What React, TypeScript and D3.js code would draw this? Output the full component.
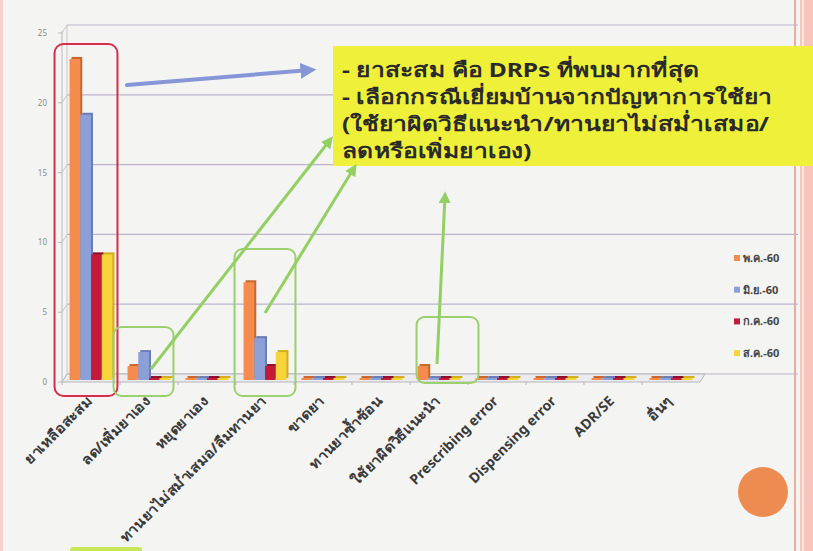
import * as d3 from "d3";

const categories = [
  "ยาเหลือสะสม",
  "ลด/เพิ่มยาเอง",
  "หยุดยาเอง",
  "ทานยาไม่สม่ำเสมอ/ลืมทานยา",
  "ขาดยา",
  "ทานยาซ้ำซ้อน",
  "ใช้ยาผิดวิธีแนะนำ",
  "Prescribing error",
  "Dispensing error",
  "ADR/SE",
  "อื่นๆ",
];
const seriesNames = ["พ.ค.-60", "มิ.ย.-60", "ก.ค.-60", "ส.ค.-60"];
const may60 = [23, 1, 0, 7, 0, 0, 1, 0, 0, 0, 0];
const jun60 = [19, 2, 0, 3, 0, 0, 0, 0, 0, 0, 0];
const jul60 = [9, 0, 0, 1, 0, 0, 0, 0, 0, 0, 0];
const aug60 = [9, 0, 0, 2, 0, 0, 0, 0, 0, 0, 0];
const yTicks = [0, 5, 10, 15, 20, 25];
const noteLines = [
  "- ยาสะสม คือ DRPs ที่พบมากที่สุด",
  "- เลือกกรณีเยี่ยมบ้านจากปัญหาการใช้ยา",
  "(ใช้ยาผิดวิธีแนะนำ/ทานยาไม่สม่ำเสมอ/",
  "ลดหรือเพิ่มยาเอง)",
];

const colors = ["#F58B4C", "#8C9FD6", "#C21A3A", "#F7D43A"];
const sides = ["#C9672F", "#6A7DB5", "#8E0F28", "#D1AE1E"];
const values = [may60, jun60, jul60, aug60];

const W = 813;
const H = 551;
const font = "'Noto Sans', 'DejaVu Sans', sans-serif";
const isThai = (s: string) => /[\u0E00-\u0E7F]/.test(s);

export default function App() {
  const x0 = d3.scaleBand<string>().domain(categories).range([62, 700]).paddingInner(0.26).paddingOuter(0.13);
  const x1 = d3.scaleBand<string>().domain(seriesNames).range([0, x0.bandwidth()]);
  const y = d3.scaleLinear().domain([0, 25]).range([380, 31]);
  const dx = 5;
  const dy = -6;

  // rounded callout around a category group
  const box = (cat: string, padL: number, padR: number) => ({
    x: (x0(cat) ?? 0) - padL,
    w: x0.bandwidth() + padL + padR,
  });
  const b1 = box(categories[0], 15, 5);
  const b2 = box(categories[1], 14, 3);
  const b4 = box(categories[3], 9, 9);
  const b7 = box(categories[6], 1, 18);

  return (
    <svg
      width={W}
      height={H}
      style={{ position: "absolute", left: 0, top: 0, background: "#F4F4F2" }}
      fontFamily={font}
    >
      <defs>
        <marker id="gArrow" viewBox="0 0 10 10" refX="6" refY="5" markerWidth="4" markerHeight="4" orient="auto">
          <path d="M0,0 L10,5 L0,10 z" fill="#93CF63" />
        </marker>
        <marker id="bArrow" viewBox="0 0 10 10" refX="6" refY="5" markerWidth="4" markerHeight="4" orient="auto">
          <path d="M0,0 L10,5 L0,10 z" fill="#8796D6" />
        </marker>
      </defs>

      {/* slide frame */}
      <rect x={0} y={0} width={3} height={H} fill="#F5D2CC" />
      <rect x={794} y={0} width={2} height={H} fill="#F0A99C" />
      <rect x={800} y={0} width={13} height={H} fill="#F6C6BC" />
      <rect x={802} y={0} width={2} height={H} fill="#FBE6E1" />

      {/* gridlines on back wall */}
      {yTicks.map((t) => (
        <line key={t} x1={62 + dx} x2={798} y1={y(t) + dy} y2={y(t) + dy} stroke="#BDB3CB" strokeWidth={1.2} />
      ))}
      <line x1={62 + dx} x2={62 + dx} y1={y(25) + dy} y2={y(0) + dy} stroke="#C8C8C8" />
      <line x1={62} x2={62} y1={y(25)} y2={y(0) + 2} stroke="#B8B8B8" />
      {yTicks.map((t) => (
        <g key={"t" + t}>
          <line x1={58} x2={62} y1={y(t) + 2} y2={y(t) + 2} stroke="#B8B8B8" />
          <line x1={62} x2={62 + dx} y1={y(t) + 2} y2={y(t) + dy} stroke="#C8C8C8" />
          <text x={47} y={y(t) + 5} fontSize={8} fill="#8A8A8A" textAnchor="end">
            {t}
          </text>
        </g>
      ))}

      {/* floor */}
      <path
        d={`M62,${y(0) + 2} L700,${y(0) + 2} L${700 + dx},${y(0) + dy} L${62 + dx},${y(0) + dy} Z`}
        fill="#ECECEE"
        stroke="#B5B5BE"
      />
      {categories.map((c, i) => (
        <line key={"xt" + i} x1={x0(c)! - 7.5} x2={x0(c)! - 7.5} y1={y(0) + 2} y2={y(0) + 5} stroke="#B5B5BE" />
      ))}

      {/* bars */}
      {categories.map((c, i) =>
        seriesNames.map((s, k) => {
          const v = values[k][i];
          const bx = x0(c)! + x1(s)!;
          const bw = x1.bandwidth();
          const top = y(v);
          const h = Math.max(y(0) - top, 2);
          return (
            <g key={c + s}>
              <rect x={bx + 2} y={y(0) - h - 2} width={bw} height={h} fill={sides[k]} />
              <rect x={bx} y={y(0) - h} width={bw} height={h} fill={colors[k]} />
            </g>
          );
        })
      )}

      {/* category labels */}
      {categories.map((c) => {
        const cx = x0(c)! + x0.bandwidth() / 2;
        const sx = isThai(c) ? 1.08 : 1;
        return (
          <text
            key={"l" + c}
            transform={`translate(${cx + 2},${402}) rotate(-45) scale(${sx},1)`}
            textAnchor="end"
            fontSize={14}
            fontWeight="bold"
            fill="#3A3A3A"
          >
            {c}
          </text>
        );
      })}

      {/* legend */}
      {seriesNames.map((s, k) => (
        <g key={"lg" + s} transform={`translate(734,${258 + k * 31.7})`}>
          <rect x={0} y={-3} width={6} height={6} fill={colors[k]} />
          <text x={9} y={4} fontSize={11} fontWeight="bold" fill="#444">
            {s}
          </text>
        </g>
      ))}

      {/* callout boxes */}
      <rect x={b1.x} y={44} width={b1.w} height={352} rx={9} fill="none" stroke="#D62F4B" strokeWidth={2} />
      <rect x={b2.x} y={327} width={b2.w} height={69} rx={8} fill="none" stroke="#9AD06D" strokeWidth={2} />
      <rect x={b4.x} y={249} width={b4.w} height={147} rx={8} fill="none" stroke="#9AD06D" strokeWidth={2} />
      <rect x={b7.x} y={317} width={b7.w} height={66} rx={8} fill="none" stroke="#9AD06D" strokeWidth={2} />

      {/* yellow note */}
      <rect x={333} y={46} width={W - 333} height={120} fill="#EEF03A" />
      <g transform="translate(342,0) scale(1.23,1)">
        {noteLines.map((t, i) => (
          <text key={"n" + i} x={0} y={77 + i * 27} fontSize={20} fontWeight="bold" fill="#2A2A2A">
            {t}
          </text>
        ))}
      </g>

      {/* arrows */}
      <line x1={127} y1={85} x2={310} y2={70} stroke="#8796D6" strokeWidth={4} strokeLinecap="round" markerEnd="url(#bArrow)" />
      <line x1={151} y1={369} x2={330} y2={140} stroke="#93CF63" strokeWidth={3} markerEnd="url(#gArrow)" />
      <line x1={265} y1={313} x2={354} y2={168} stroke="#93CF63" strokeWidth={3} markerEnd="url(#gArrow)" />
      <line x1={437} y1={364} x2={445} y2={196} stroke="#93CF63" strokeWidth={3} markerEnd="url(#gArrow)" />

      {/* slide decorations */}
      <circle cx={763} cy={492} r={25} fill="#EE8B50" />
      <rect x={70} y={547} width={72} height={6} rx={3} fill="#C8E85A" />
    </svg>
  );
}
